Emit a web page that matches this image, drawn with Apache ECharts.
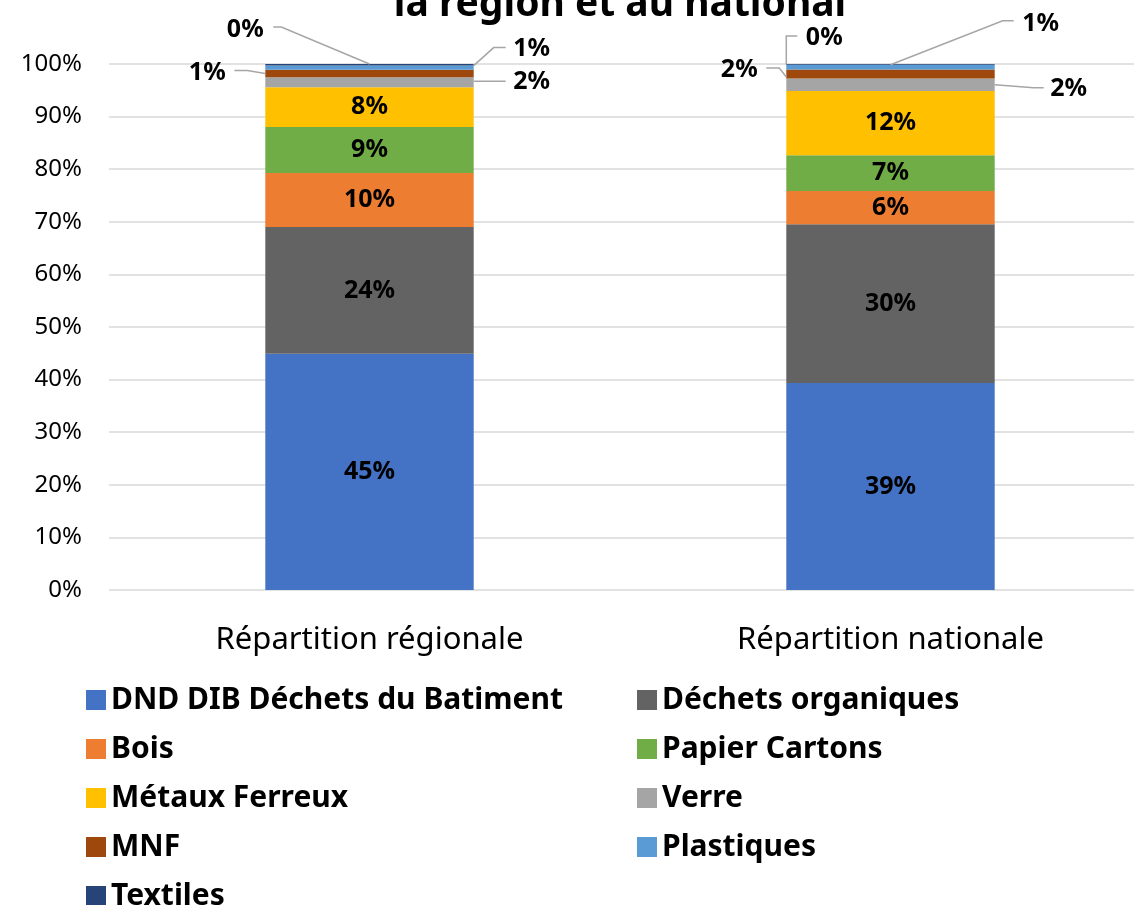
<!DOCTYPE html>
<html><head><meta charset="utf-8">
<script src="https://cdn.jsdelivr.net/npm/echarts@6/dist/echarts.min.js"></script>
<style>html,body{margin:0;padding:0;background:#fff}#c{width:1134px;height:905px}</style>
</head><body><div id="c"></div>
<script>
const categories = ['Répartition régionale', 'Répartition nationale'];
const seriesNames = ['DND DIB Déchets du Batiment', 'Déchets organiques', 'Bois', 'Papier Cartons', 'Métaux Ferreux', 'Verre', 'MNF', 'Plastiques', 'Textiles'];
const dnd = [44.9, 39.35];
const organiques = [24.1, 30.2];
const bois = [10.3, 6.3];
const papier = [8.7, 6.8];
const metaux = [7.6, 12.2];
const verre = [1.9, 2.4];
const mnf = [1.4, 1.7];
const plastiques = [0.8, 0.9];
const textiles = [0.3, 0.15];
const yTicks = [0, 10, 20, 30, 40, 50, 60, 70, 80, 90, 100];

const values = [dnd, organiques, bois, papier, metaux, verre, mnf, plastiques, textiles];
const colors = ['#4472C4', '#636363', '#ED7D31', '#70AD47', '#FFC000', '#A5A5A5', '#9E480E', '#5B9BD5', '#264478'];
const FONT = '"Noto Sans", "Open Sans", sans-serif';
const BAR_RATIO = 0.4;

// outside label placement + leader lines (relative to the segment rect)
function outsideLayout(si, di, r) {
  const L = r.x, R = r.x + r.width, C = r.x + r.width / 2, T = r.y, M = r.y + r.height / 2;
  const table = {
    5: [
      { p: [R + 58, M], l: [[R, M - 1], [R + 32, M - 1]] },
      { p: [R + 74, M + 4], l: [[R, M], [R + 39, M + 3], [R + 49, M + 3]] }
    ],
    6: [
      { p: [L - 58, M - 1], l: [[L - 31, M - 3], [L - 18, M - 3], [L, M]] },
      { p: [L - 47, M - 4], l: [[L - 20, M - 6], [L - 7, M - 6], [L, M + 3]] }
    ],
    7: [
      { p: [R + 58, T - 17], l: [[R, T], [R + 20, T - 18], [R + 32, T - 18]] },
      { p: [R + 46, T - 41], l: [[C, T], [R + 8, T - 44], [R + 19, T - 44]] }
    ],
    8: [
      { p: [L - 20, T - 34], l: [[L + 8, T - 37], [L + 16, T - 37], [C, T]] },
      { p: [L + 38, T - 26], l: [[L, T], [L, T - 28], [L + 11, T - 28]] }
    ]
  };
  return table[si][di];
}

const series = values.map((arr, i) => {
  const s = {
    name: seriesNames[i], type: 'bar', stack: 'total', barWidth: (BAR_RATIO * 100) + '%',
    data: arr, itemStyle: { color: colors[i] },
    label: {
      show: true, position: 'inside', color: '#000', fontWeight: 'bold',
      fontSize: 25, fontFamily: FONT,
      formatter: p => Math.round(p.value) + '%'
    }
  };
  if (i >= 5) {
    s.labelLayout = function (p) {
      const o = outsideLayout(i, p.dataIndex, p.rect);
      return { x: o.p[0], y: o.p[1], align: 'center', verticalAlign: 'middle' };
    };
  }
  return s;
});

const chart = echarts.init(document.getElementById('c'), null, { renderer: 'canvas' });
chart.setOption({
  animation: false,
  title: {
    text: 'la région et au national', left: 615, top: -20, textAlign: 'center',
    textStyle: { fontSize: 39, fontWeight: 'bold', color: '#000', fontFamily: FONT }
  },
  grid: { left: 109, width: 1042, top: 64, bottom: 315, containLabel: false, outerBoundsMode: 'none' },
  xAxis: {
    type: 'category', data: categories,
    axisLine: { show: false }, axisTick: { show: false },
    axisLabel: { fontSize: 31, color: '#000', margin: 35, fontFamily: FONT }
  },
  yAxis: {
    type: 'value', min: yTicks[0], max: yTicks[yTicks.length - 1], interval: 10,
    axisLine: { show: false }, axisTick: { show: false },
    splitLine: { lineStyle: { color: '#D9D9D9', width: 1.5 } },
    axisLabel: { fontSize: 24, color: '#000', margin: 27, formatter: '{value}%', fontFamily: FONT }
  },
  legend: [
    {
      orient: 'vertical', left: 81, top: 680, height: 400, itemWidth: 20, itemHeight: 20, itemGap: 19, icon: 'rect',
      data: [seriesNames[0], seriesNames[2], seriesNames[4], seriesNames[6], seriesNames[8]],
      textStyle: { fontSize: 30, fontWeight: 'bold', color: '#000', lineHeight: 30, fontFamily: FONT }
    },
    {
      orient: 'vertical', left: 632, top: 680, height: 400, itemWidth: 20, itemHeight: 20, itemGap: 19, icon: 'rect',
      data: [seriesNames[1], seriesNames[3], seriesNames[5], seriesNames[7]],
      textStyle: { fontSize: 30, fontWeight: 'bold', color: '#000', lineHeight: 30, fontFamily: FONT }
    }
  ],
  series: series
});

// leader lines for the small outside labels, positioned from the axis scales
const lines = [];
const cx0 = chart.convertToPixel({ xAxisIndex: 0 }, 0);
const cx1 = chart.convertToPixel({ xAxisIndex: 0 }, 1);
const barW = (cx1 - cx0) * BAR_RATIO;
categories.forEach((c, di) => {
  const cx = chart.convertToPixel({ xAxisIndex: 0 }, di);
  let cum = 0;
  values.forEach((arr, si) => {
    const bottom = cum, top = cum + arr[di];
    cum = top;
    if (si < 5) return;
    const yT = chart.convertToPixel({ yAxisIndex: 0 }, top);
    const yB = chart.convertToPixel({ yAxisIndex: 0 }, bottom);
    const r = { x: cx - barW / 2, y: yT, width: barW, height: yB - yT };
    const o = outsideLayout(si, di, r);
    lines.push({
      type: 'polyline', silent: true, z: 100,
      shape: { points: o.l },
      style: { stroke: '#A6A6A6', lineWidth: 1.5, fill: null }
    });
  });
});
chart.setOption({ graphic: lines });
</script>
</body></html>
